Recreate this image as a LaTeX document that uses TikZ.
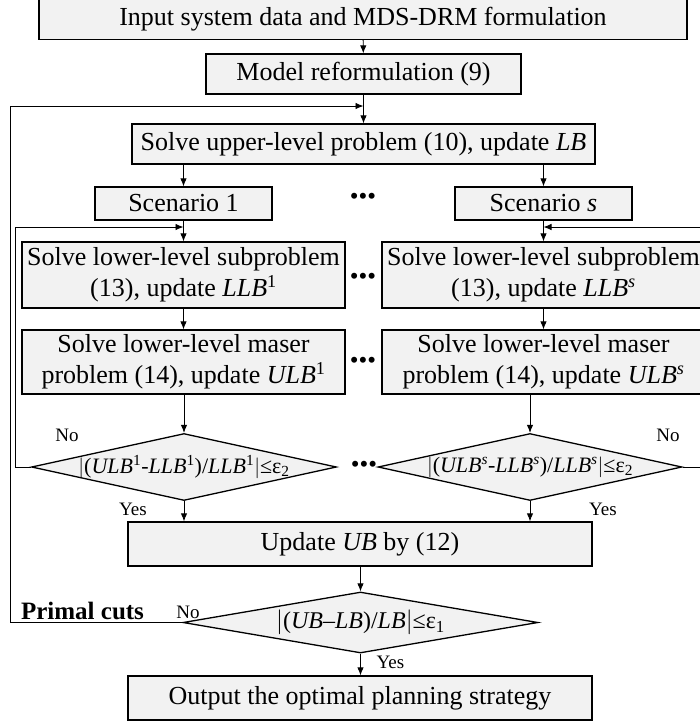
\documentclass[tikz,border=0pt]{standalone}
\usepackage{fontspec}
\setmainfont{Liberation Serif}
\usetikzlibrary{shapes.geometric, arrows.meta}

\begin{document}
\begin{tikzpicture}[x = 1pt, y = -1pt,
        every node/.style = {font = \fontsize{26}{31}\selectfont},
        box/.style = {draw = black, fill = black!5, line width = 1.3pt, inner sep = 0pt, align = center},
        decision/.style = {diamond, draw = black, fill = black!5, line width = 1.3pt, inner sep = 0pt},
        condtext/.style = {font = \fontsize{22}{26}\selectfont, inner sep = 0pt},
        flow/.style = {line width = .9pt, -{Latex[length = 8pt, width = 6.5pt]}},
        small/.style = {font = \fontsize{19}{22}\selectfont, inner sep = 0pt, anchor = base},
        dots/.style = {font = \fontsize{25}{28}\selectfont, inner sep = 0pt}]
    \useasboundingbox (0,0) rectangle (700,724);

    % Draw the main chain:
    \node [box, minimum width = 648pt, minimum height = 41pt] (Input) at (363,19) {Input system data and MDS-DRM formulation};
    \node [box, minimum width = 315pt, minimum height = 40pt] (Reform) at (363.5,74) {Model reformulation (9)};
    \node [box, minimum width = 463pt, minimum height = 40pt] (Upper) at (363.5,144) {Solve upper-level problem (10), update \textit{LB}};

    % Draw the scenario columns:
    \node [box, minimum width = 177pt, minimum height = 33pt] (ScenA) at (183.5,203.5) {Scenario 1};
    \node [box, minimum width = 177pt, minimum height = 33pt] (ScenS) at (543.5,203.5) {Scenario \textit{s}};
    \node [box, minimum width = 323pt, minimum height = 66pt] (SubA) at (183.5,275) {Solve lower-level subproblem\\(13), update \textit{LLB}\textsuperscript{1}};
    \node [box, minimum width = 323pt, minimum height = 66pt] (SubS) at (543.5,275) {Solve lower-level subproblem\\(13), update \textit{LLB}\textsuperscript{\textit{s}}};
    \node [box, minimum width = 323pt, minimum height = 64pt] (MasA) at (183.5,362) {Solve lower-level maser\\problem (14), update \textit{ULB}\textsuperscript{1}};
    \node [box, minimum width = 323pt, minimum height = 64pt] (MasS) at (543.5,362) {Solve lower-level maser\\problem (14), update \textit{ULB}\textsuperscript{\textit{s}}};
    \node [decision, minimum width = 305pt, minimum height = 67pt] (DecA) at (184,467) {};
    \node [condtext] (DecAText) at (DecA) {$\bigl|$(\textit{ULB}\textsuperscript{1}-\textit{LLB}\textsuperscript{1})/\textit{LLB}\textsuperscript{1}$\bigr|$≤ε\textsubscript{2}};
    \node [decision, minimum width = 304pt, minimum height = 67pt] (DecS) at (530,467) {};
    \node [condtext] (DecSText) at (DecS) {$\bigl|$(\textit{ULB}\textsuperscript{\textit{s}}-\textit{LLB}\textsuperscript{\textit{s}})/\textit{LLB}\textsuperscript{\textit{s}}$\bigr|$≤ε\textsubscript{2}};

    % Draw the dots between the columns:
    \node [dots] (Dots1) at (363,199) {•••};
    \node [dots] (Dots2) at (363,279) {•••};
    \node [dots] (Dots3) at (363,363) {•••};
    \node [dots] (Dots4) at (364,467) {•••};

    % Draw the bottom part:
    \node [box, minimum width = 464pt, minimum height = 44pt] (Update) at (360,544) {Update \textit{UB} by (12)};
    \node [decision, minimum width = 355pt, minimum height = 61pt] (DecUB) at (360.5,622.5) {};
    \node [condtext, font = \fontsize{24}{28}\selectfont] (DecUBText) at (DecUB) {$\bigl|$(\textit{UB}–\textit{LB})/\textit{LB}$\bigr|$≤ε\textsubscript{1}};
    \node [box, minimum width = 464pt, minimum height = 44pt] (Output) at (360,698) {Output the optimal planning strategy};

    % Draw the arrows:
    \draw [flow] (Input) -- (Reform);
    \draw [flow] (Reform) -- (Upper);
    \draw [flow] (ScenA.north |- Upper.south) -- (ScenA);
    \draw [flow] (ScenS.north |- Upper.south) -- (ScenS);
    \draw [flow] (ScenA) -- (SubA);
    \draw [flow] (ScenS) -- (SubS);
    \draw [flow] (SubA) -- (MasA);
    \draw [flow] (SubS) -- (MasS);
    \draw [flow] (MasA.south -| DecA.north) -- (DecA.north);
    \draw [flow] (MasS.south -| DecS.north) -- (DecS.north);
    \draw [flow] (DecA.south) -- (DecA.south |- Update.north);
    \draw [flow] (DecS.south) -- (DecS.south |- Update.north);
    \draw [flow] (Update.south -| DecUB.north) -- (DecUB.north);
    \draw [flow] (DecUB.south) -- (DecUB.south |- Output.north);

    % Draw the loops back:
    \coordinate (BackA) at (15,227);
    \coordinate (JoinA) at (183.5,227);
    \coordinate (BackS) at (712,227);
    \coordinate (JoinS) at (543.5,227);
    \coordinate (BackUB) at (10,106);
    \coordinate (JoinUB) at (363.5,106);
    \draw [flow] (DecA.west) -| (BackA) -- (JoinA);
    \draw [flow] (DecS.east) -| (BackS) -- (JoinS);
    \draw [flow] (DecUB.west) -| (BackUB) -- (JoinUB);

    % Draw the labels:
    \node [small] (NoA) at (67,441) {No};
    \node [small] (NoS) at (668,441) {No};
    \node [small] (YesA) at (133,515) {Yes};
    \node [small] (YesS) at (603,515) {Yes};
    \node [small] (NoUB) at (188,618) {No};
    \node [small] (YesUB) at (390.5,668) {Yes};
    \node [small, font = \bfseries\fontsize{25}{28}\selectfont] (Cuts) at (82.5,619) {Primal cuts};
\end{tikzpicture}
\end{document}
